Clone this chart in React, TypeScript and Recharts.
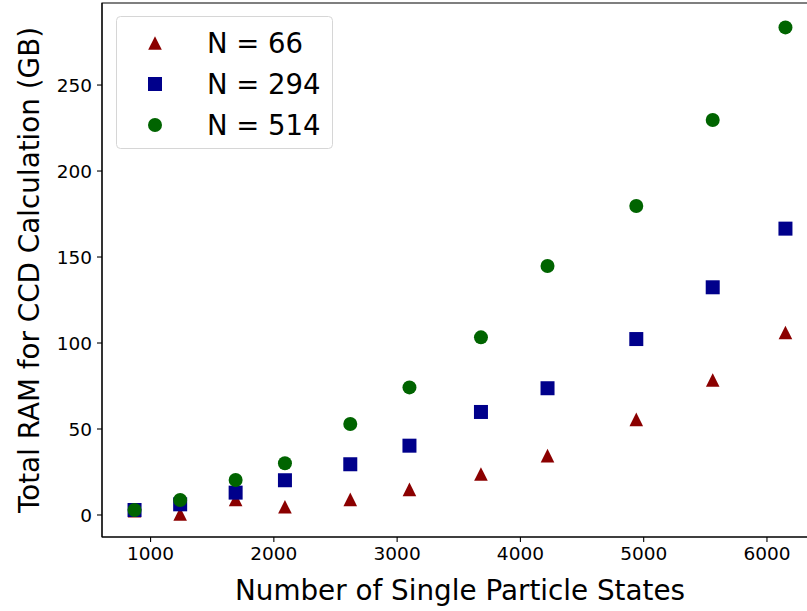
import React from 'react';
import {
  ScatterChart,
  Scatter,
  XAxis,
  YAxis,
  Label,
  ReferenceArea,
} from 'recharts';

// Number of single particle states (x) and total RAM in GB for each N
const states = [870, 1240, 1690, 2090, 2620, 3100, 3680, 4220, 4940, 5560, 6150];
const ramN66 = [2.5, 0.6, 9.0, 4.8, 9.1, 14.9, 23.8, 34.5, 55.6, 78.5, 106.1];
const ramN294 = [2.9, 6.2, 13.0, 20.2, 29.5, 40.3, 59.9, 73.7, 102.3, 132.4, 166.5];
const ramN514 = [2.9, 8.7, 20.3, 30.1, 52.9, 74.2, 103.3, 144.8, 179.7, 229.7, 283.5];

const seriesNames = ['N = 66', 'N = 294', 'N = 514'];
const xTicks = [1000, 2000, 3000, 4000, 5000, 6000];
const yTicks = [0, 50, 100, 150, 200, 250];
const xDomain: [number, number] = [606, 6414];
const yDomain: [number, number] = [-12.8, 297.7];

const RED = '#8b0000';
const BLUE = '#00008b';
const GREEN = '#006400';
const FONT = '"DejaVu Sans", sans-serif';

const toPoints = (ys: number[]) => states.map((x, i) => ({ x, y: ys[i] }));

const Triangle = (props: any) => {
  const { cx, cy } = props;
  const h = 6.8;
  return (
    <polygon
      points={`${cx},${cy - h} ${cx - h},${cy + h} ${cx + h},${cy + h}`}
      fill={RED}
    />
  );
};

const Square = (props: any) => {
  const { cx, cy } = props;
  return <rect x={cx - 7} y={cy - 7} width={14} height={14} fill={BLUE} />;
};

const Dot = (props: any) => {
  const { cx, cy } = props;
  return <circle cx={cx} cy={cy} r={7} fill={GREEN} />;
};

// legend drawn by hand so it doesn't push the plot area around
const LegendBox = () => {
  const rows = [
    { name: seriesNames[0], color: RED, kind: 'tri' },
    { name: seriesNames[1], color: BLUE, kind: 'sq' },
    { name: seriesNames[2], color: GREEN, kind: 'dot' },
  ];
  return (
    <svg
      width={218}
      height={134}
      style={{ position: 'absolute', left: 116, top: 16, display: 'block' }}
    >
      <rect x={0.5} y={0.5} width={216} height={132} rx={4} fill="#fff" fillOpacity={0.8} stroke="#d6d6d6" />
      {rows.map((r, i) => {
        const cy = 27 + i * 41;
        const cx = 39;
        let marker;
        if (r.kind === 'tri') {
          marker = <polygon points={`${cx},${cy - 6.8} ${cx - 6.8},${cy + 6.8} ${cx + 6.8},${cy + 6.8}`} fill={r.color} />;
        } else if (r.kind === 'sq') {
          marker = <rect x={cx - 7} y={cy - 7} width={14} height={14} fill={r.color} />;
        } else {
          marker = <circle cx={cx} cy={cy} r={7} fill={r.color} />;
        }
        return (
          <g key={r.name}>
            {marker}
            <text x={91} y={cy} dy="0.36em" fontSize={27.5} fontFamily={FONT} fill="#000">
              {r.name}
            </text>
          </g>
        );
      })}
    </svg>
  );
};

const YLabel = (props: any) => {
  const { viewBox } = props;
  const cy = viewBox.y + viewBox.height / 2;
  return (
    <text
      transform={`translate(29, ${cy}) rotate(-90)`}
      textAnchor="middle"
      dy="0.36em"
      fontSize={27.8}
      fontFamily={FONT}
      fill="#000"
    >
      Total RAM for CCD Calculation (GB)
    </text>
  );
};

const XLabel = (props: any) => {
  const { viewBox } = props;
  const cx = viewBox.x + viewBox.width / 2;
  return (
    <text x={cx} y={600} textAnchor="middle" fontSize={27.8} fontFamily={FONT} fill="#000">
      Number of Single Particle States
    </text>
  );
};

const App: React.FC = () => {
  const tickStyle = { fontSize: 18.5, fill: '#000', fontFamily: FONT };
  return (
    <div
      style={{
        position: 'fixed',
        left: 0,
        top: 0,
        width: 807,
        height: 611,
        overflow: 'hidden',
        background: '#fff',
      }}
    >
      <ScatterChart width={830} height={611} margin={{ top: 3, right: 12, left: 0, bottom: 0 }}>
        <XAxis
          type="number"
          dataKey="x"
          domain={xDomain}
          ticks={xTicks}
          allowDataOverflow
          height={74}
          tickSize={5}
          tickMargin={5}
          tick={tickStyle}
          axisLine={{ stroke: '#000', strokeWidth: 1.1 }}
          tickLine={{ stroke: '#000', strokeWidth: 1.1 }}
        >
          <Label content={<XLabel />} />
        </XAxis>
        <YAxis
          type="number"
          dataKey="y"
          domain={yDomain}
          ticks={yTicks}
          allowDataOverflow
          width={102}
          tickSize={5}
          tickMargin={5}
          tick={tickStyle}
          axisLine={{ stroke: '#000', strokeWidth: 1.1 }}
          tickLine={{ stroke: '#000', strokeWidth: 1.1 }}
        >
          <Label content={<YLabel />} />
        </YAxis>
        <ReferenceArea
          x1={xDomain[0]}
          x2={xDomain[1]}
          y1={yDomain[0]}
          y2={yDomain[1]}
          fill="none"
          fillOpacity={0}
          stroke="#000"
          strokeWidth={1.1}
          ifOverflow="visible"
        />
        <Scatter name={seriesNames[0]} data={toPoints(ramN66)} shape={<Triangle />} isAnimationActive={false} />
        <Scatter name={seriesNames[1]} data={toPoints(ramN294)} shape={<Square />} isAnimationActive={false} />
        <Scatter name={seriesNames[2]} data={toPoints(ramN514)} shape={<Dot />} isAnimationActive={false} />
      </ScatterChart>
      <LegendBox />
    </div>
  );
};

export default App;
